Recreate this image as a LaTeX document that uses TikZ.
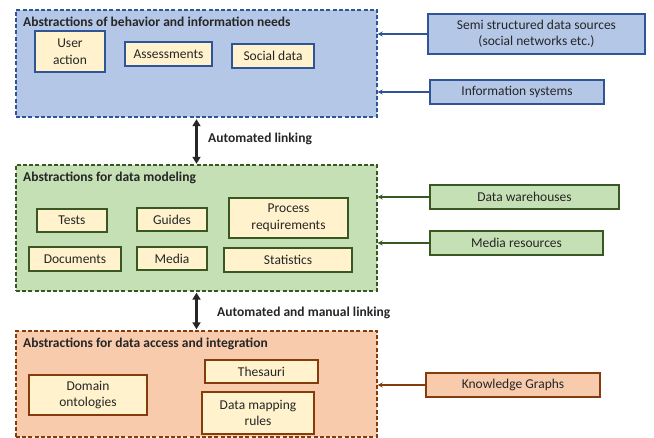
\documentclass[tikz,border=0pt]{standalone}
\usepackage{fontspec}
\setmainfont{Carlito}
\usetikzlibrary{arrows.meta}
\definecolor{blueFill}{HTML}{B4C7E7}
\definecolor{blueLine}{HTML}{2F5597}
\definecolor{greenFill}{HTML}{C5E0B4}
\definecolor{greenLine}{HTML}{385723}
\definecolor{orangeFill}{HTML}{F8CBAD}
\definecolor{orangeLine}{HTML}{843C0C}
\definecolor{itemFill}{HTML}{FFF2CC}
\definecolor{ink}{HTML}{262626}
\tikzset{
  every node/.style={font=\fontsize{13.5}{16.5}\selectfont, text=ink},
  sz/.style 2 args={minimum width=#1pt, minimum height=#2pt},
  group/.style={draw=#1, dashed, dash pattern=on 4pt off 2.2pt, line width=1.4pt, rectangle, inner sep=0pt},
  item/.style={draw=#1, fill=itemFill, line width=1.8pt, rectangle, inner sep=0pt, align=center},
  source/.style={draw=#1, line width=1.5pt, rectangle, inner sep=0pt, align=center},
  feed/.style={draw=#1, line width=1.6pt, -{Stealth[length=5pt,width=5pt]}},
  link/.style={draw=ink, line width=2.4pt, {Triangle[length=7pt,width=8pt]}-{Triangle[length=7pt,width=8pt]}},
  grouptitle/.style={anchor=base west, font=\fontsize{13.5}{16.5}\selectfont\bfseries, inner sep=0pt},
  linklabel/.style={anchor=west, font=\fontsize{13.5}{16.5}\selectfont\bfseries, inner sep=0pt}
}
\begin{document}
\begin{tikzpicture}[x=1pt, y=-1pt]
\useasboundingbox (0,0) rectangle (654,438);

% Group containers
\node[group=blueLine, fill=blueFill, sz={361}{107}] (behav) at (196.5,63.5) {};
\node[group=greenLine, fill=greenFill, sz={361}{126}] (model) at (196.5,228) {};
\node[group=orangeLine, fill=orangeFill, sz={361}{106}] (access) at (196.5,384) {};

\node[grouptitle] (t1) at (23,27) {Abstractions of behavior and information needs};
\node[grouptitle] (t2) at (23,182) {Abstractions for data modeling};
\node[grouptitle] (t3) at (23,348) {Abstractions for data access and integration};

% Behaviour items
\node[item=blueLine, sz={70}{41}] (user) at (70,51.5) {User\\action};
\node[item=blueLine, sz={87}{24}] (assess) at (168.5,54) {Assessments};
\node[item=blueLine, sz={82}{24}] (social) at (273,56) {Social data};

% Modeling items
\node[item=greenLine, sz={70}{23}] (tests) at (72,220.5) {Tests};
\node[item=greenLine, sz={70}{23}] (guides) at (172,219.5) {Guides};
\node[item=greenLine, sz={119}{40}] (process) at (288.5,218) {Process\\requirements};
\node[item=greenLine, sz={92}{24}] (docs) at (75,259) {Documents};
\node[item=greenLine, sz={70}{23}] (media) at (172,258.5) {Media};
\node[item=greenLine, sz={128}{24}] (stats) at (288,260) {Statistics};

% Access items
\node[item=orangeLine, sz={118}{40}] (onto) at (88,395) {Domain\\ontologies};
\node[item=orangeLine, sz={113}{23}] (thes) at (261.5,371.5) {Thesauri};
\node[item=orangeLine, sz={112}{42}] (mapping) at (258,413) {Data mapping\\rules};

% External sources
\node[source=blueLine, fill=blueFill, sz={217}{40}] (semi) at (536.5,34) {Semi structured data sources\\(social networks etc.)};
\node[source=blueLine, fill=blueFill, sz={174}{24}] (infosys) at (517,92) {Information systems};
\node[source=greenLine, fill=greenFill, sz={189}{24}] (dwh) at (524.5,197) {Data warehouses};
\node[source=greenLine, fill=greenFill, sz={173}{24}] (mres) at (516.5,243) {Media resources};
\node[source=orangeLine, fill=orangeFill, sz={174}{24}] (kg) at (513,385) {Knowledge Graphs};

% Feeds into the groups
\draw[feed=blueLine] (semi.west) -- (semi.west -| behav.east);
\draw[feed=blueLine] (infosys.west) -- (infosys.west -| behav.east);
\draw[feed=greenLine] (dwh.west) -- (dwh.west -| model.east);
\draw[feed=greenLine] (mres.west) -- (mres.west -| model.east);
\draw[feed=orangeLine] (kg.west) -- (kg.west -| access.east);

% Links between the layers
\draw[link, shorten <=1.5pt, shorten >=0.5pt] (behav.south) -- (model.north);
\draw[link, shorten <=1pt, shorten >=1pt] (model.south) -- (access.north);
\node[linklabel] (l1) at (208,139) {Automated linking};
\node[linklabel] (l2) at (217,313) {Automated and manual linking};
\end{tikzpicture}
\end{document}
